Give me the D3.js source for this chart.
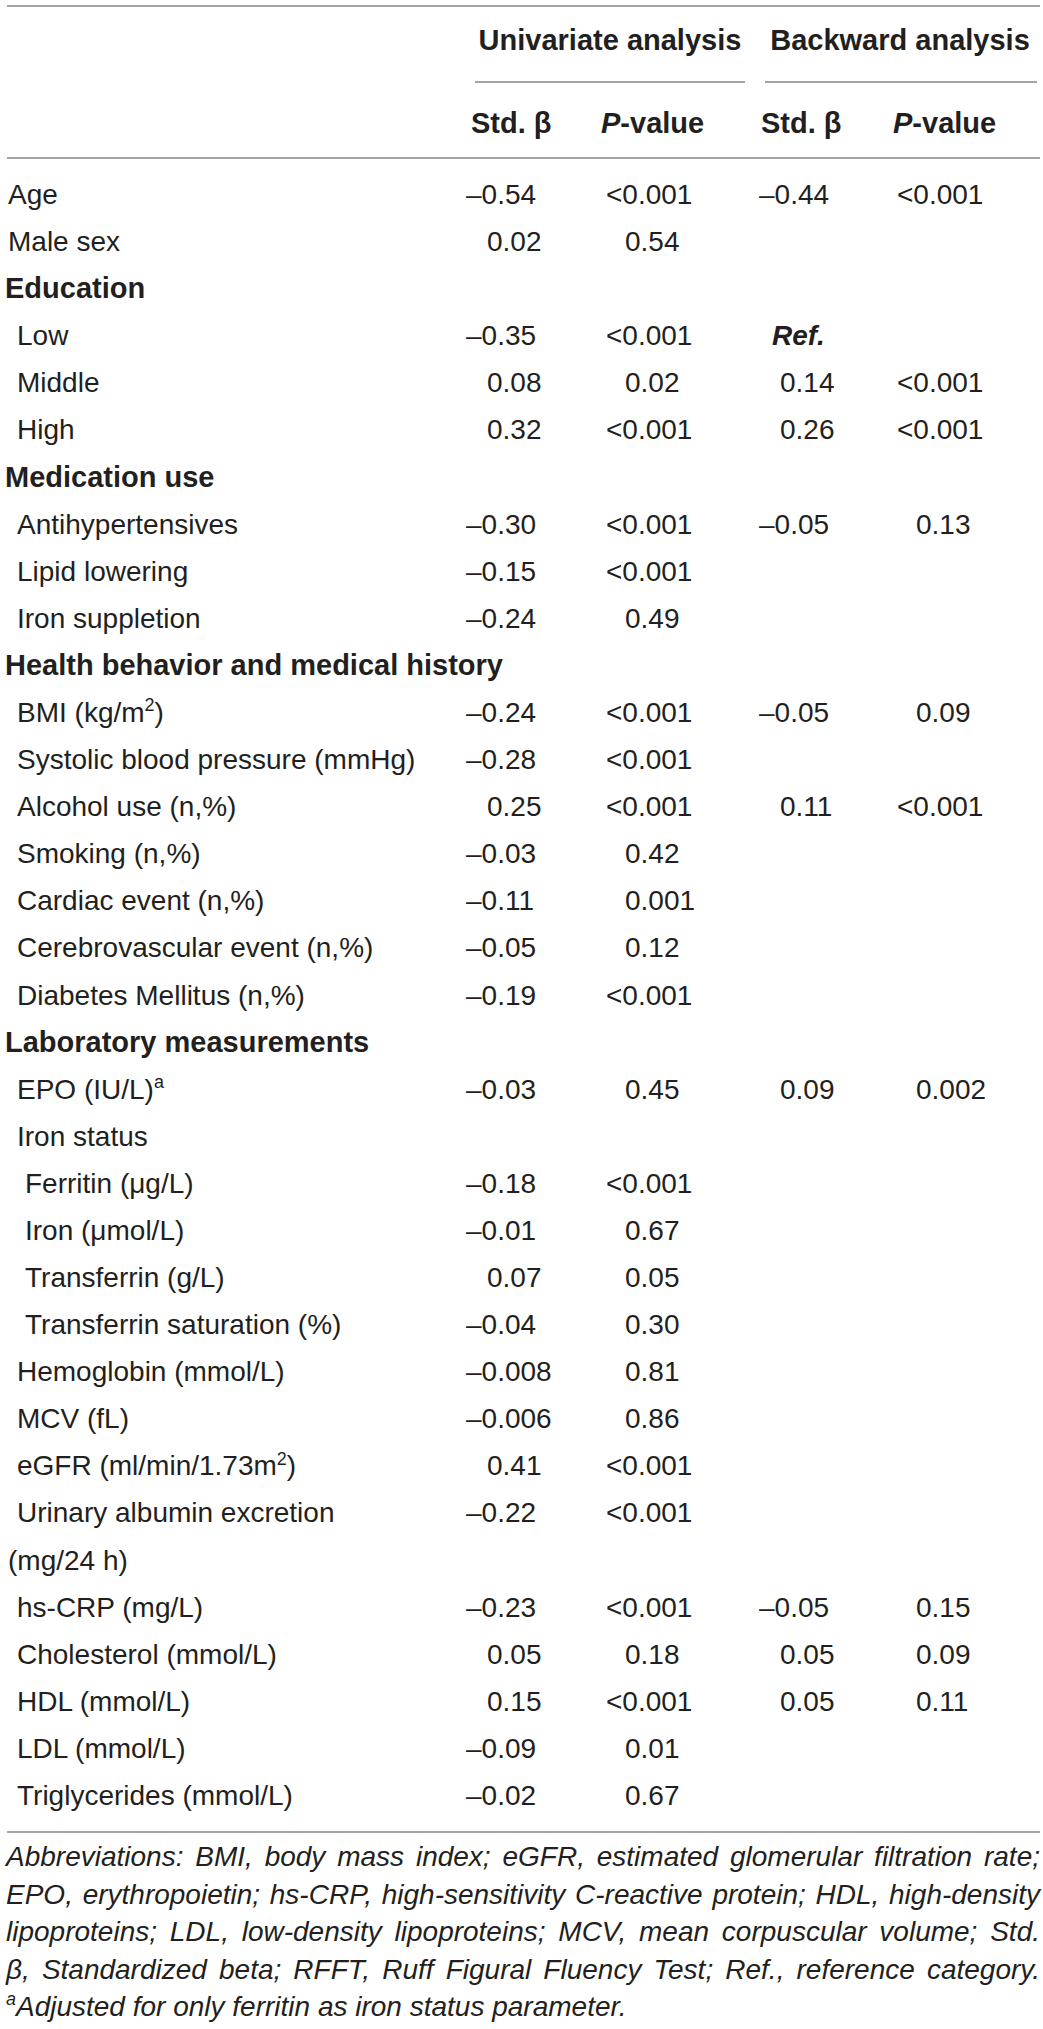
<!DOCTYPE html>
<html>
<head>
<meta charset="utf-8">
<script src="https://cdn.jsdelivr.net/npm/d3@7"></script>
<style>
  body { margin: 0; background: #fff; }
  text { font-family: "Liberation Sans", Arial, Helvetica, sans-serif; fill: #231f20; }
</style>
</head>
<body>
<div id="app-table"></div>
<script>
// row labels, "^x" marks a superscript
let labels = [
  "Age", "Male sex", "Education", "Low", "Middle", "High",
  "Medication use", "Antihypertensives", "Lipid lowering", "Iron suppletion",
  "Health behavior and medical history", "BMI (kg/m^2)", "Systolic blood pressure (mmHg)",
  "Alcohol use (n,%)", "Smoking (n,%)", "Cardiac event (n,%)", "Cerebrovascular event (n,%)",
  "Diabetes Mellitus (n,%)", "Laboratory measurements", "EPO (IU/L)^a", "Iron status",
  "Ferritin (\u03bcg/L)", "Iron (\u03bcmol/L)", "Transferrin (g/L)", "Transferrin saturation (%)",
  "Hemoglobin (mmol/L)", "MCV (fL)", "eGFR (ml/min/1.73m^2)", "Urinary albumin excretion",
  "(mg/24 h)", "hs-CRP (mg/L)", "Cholesterol (mmol/L)", "HDL (mmol/L)", "LDL (mmol/L)",
  "Triglycerides (mmol/L)"
]

// indent level of each label: "h" = section heading, "c" = wrapped line
let levels = [
  0, 0, "h", 1, 1, 1,
  "h", 1, 1, 1,
  "h", 1, 1,
  1, 1, 1, 1,
  1, "h", 1, 1,
  2, 2, 2, 2,
  1, 1, 1, 1,
  "c", 1, 1, 1, 1,
  1
]

let uniBeta = [
  "\u20130.54", "0.02", "", "\u20130.35", "0.08", "0.32",
  "", "\u20130.30", "\u20130.15", "\u20130.24",
  "", "\u20130.24", "\u20130.28",
  "0.25", "\u20130.03", "\u20130.11", "\u20130.05",
  "\u20130.19", "", "\u20130.03", "",
  "\u20130.18", "\u20130.01", "0.07", "\u20130.04",
  "\u20130.008", "\u20130.006", "0.41", "\u20130.22",
  "", "\u20130.23", "0.05", "0.15", "\u20130.09",
  "\u20130.02"
]

let uniP = [
  "<0.001", "0.54", "", "<0.001", "0.02", "<0.001",
  "", "<0.001", "<0.001", "0.49",
  "", "<0.001", "<0.001",
  "<0.001", "0.42", "0.001", "0.12",
  "<0.001", "", "0.45", "",
  "<0.001", "0.67", "0.05", "0.30",
  "0.81", "0.86", "<0.001", "<0.001",
  "", "<0.001", "0.18", "<0.001", "0.01",
  "0.67"
]

let backBeta = [
  "\u20130.44", "", "", "Ref.", "0.14", "0.26",
  "", "\u20130.05", "", "",
  "", "\u20130.05", "",
  "0.11", "", "", "",
  "", "", "0.09", "",
  "", "", "", "",
  "", "", "", "",
  "", "\u20130.05", "0.05", "0.05", "",
  ""
]

let backP = [
  "<0.001", "", "", "", "<0.001", "<0.001",
  "", "0.13", "", "",
  "", "0.09", "",
  "<0.001", "", "", "",
  "", "", "0.002", "",
  "", "", "", "",
  "", "", "", "",
  "", "0.15", "0.09", "0.11", "",
  ""
]

let groupHeads = ["Univariate analysis", "Backward analysis"]
let colHeads = ["Std. \u03b2", "P-value", "Std. \u03b2", "P-value"]

let footnotes = [
  "Abbreviations: BMI, body mass index; eGFR, estimated glomerular filtration rate;",
  "EPO, erythropoietin; hs-CRP, high-sensitivity C-reactive protein; HDL, high-density",
  "lipoproteins; LDL, low-density lipoproteins; MCV, mean corpuscular volume; Std.",
  "\u03b2, Standardized beta; RFFT, Ruff Figural Fluency Test; Ref., reference category.",
  "^aAdjusted for only ferritin as iron status parameter."
]

let svgW = 1043
let svgH = 2029
let lineColor = "#858585"

let svg = d3.select("#app-table")
  .append("svg")
  .attr("width", svgW)
  .attr("height", svgH)

// row baselines
let y = d3.scaleLinear()
  .domain([0, labels.length - 1])
  .range([204, 1805])

// x of the leading "0" in each value column
let cols = ["uniBeta", "uniP", "backBeta", "backP"]
let x = d3.scaleOrdinal()
  .domain(cols)
  .range([487, 625, 780, 916])

let indent = d3.scaleOrdinal()
  .domain(["h", 0, 1, 2, "c"])
  .range([5, 8, 17, 25, 8])

// puts text with optional ^x superscripts into a text node
function fillText(sel, str, size) {
  let parts = str.split(/\^(\w)/)
  parts.forEach((p, i) => {
    if (p === "") return
    if (i % 2 === 1) {
      sel.append("tspan").attr("font-size", size * 0.64).attr("dy", -size * 0.38).text(p)
    } else {
      let t = sel.append("tspan").text(p)
      if (i > 0) t.attr("dy", size * 0.38)
    }
  })
}

// rules
let rules = [
  { x1: 7, x2: 1040, y: 6 },
  { x1: 475, x2: 745, y: 82 },
  { x1: 765, x2: 1037, y: 82 },
  { x1: 7, x2: 1040, y: 158 },
  { x1: 7, x2: 1040, y: 1832 }
]
svg.selectAll("line.rule")
  .data(rules)
  .enter()
  .append("line")
  .attr("class", "rule")
  .attr("x1", d => d.x1)
  .attr("x2", d => d.x2)
  .attr("y1", d => d.y)
  .attr("y2", d => d.y)
  .attr("stroke", lineColor)
  .attr("stroke-width", 1.6)

// header
svg.selectAll("text.group")
  .data(groupHeads)
  .enter()
  .append("text")
  .attr("class", "group")
  .attr("x", (d, i) => [610, 900][i])
  .attr("y", 50)
  .attr("text-anchor", "middle")
  .attr("font-size", 29)
  .attr("font-weight", "bold")
  .text(d => d)

let heads = svg.selectAll("text.colhead")
  .data(colHeads)
  .enter()
  .append("text")
  .attr("class", "colhead")
  .attr("x", (d, i) => [471, 601, 761, 893][i])
  .attr("y", 133)
  .attr("font-size", 29)
  .attr("font-weight", "bold")
heads.each(function (d) {
  let t = d3.select(this)
  if (d.startsWith("P")) {
    t.append("tspan").attr("font-style", "italic").text("P")
    t.append("tspan").text(d.slice(1))
  } else {
    t.text(d)
  }
})

// row labels
svg.selectAll("text.label")
  .data(labels)
  .enter()
  .append("text")
  .attr("class", "label")
  .attr("x", (d, i) => indent(levels[i]))
  .attr("y", (d, i) => y(i))
  .attr("font-size", (d, i) => levels[i] === "h" ? 29 : 28)
  .attr("font-weight", (d, i) => levels[i] === "h" ? "bold" : "normal")
  .each(function (d, i) { fillText(d3.select(this), d, 28) })

// value cells
let series = { uniBeta, uniP, backBeta, backP }
let cells = []
cols.forEach(c => series[c].forEach((v, i) => { if (v) cells.push({ col: c, row: i, v }) }))

function cellX(d) {
  if (d.v === "Ref.") return 772
  let x0 = x(d.col)
  if (d.v.startsWith("\u2013")) return x0 - 21
  if (d.v.startsWith("<")) return x0 - 19
  return x0
}

svg.selectAll("text.cell")
  .data(cells)
  .enter()
  .append("text")
  .attr("class", "cell")
  .attr("x", cellX)
  .attr("y", d => y(d.row))
  .attr("font-size", 28)
  .attr("font-weight", d => d.v === "Ref." ? "bold" : "normal")
  .attr("font-style", d => d.v === "Ref." ? "italic" : "normal")
  .text(d => d.v)

// footnote, justified except for the last line
let fy = d3.scaleLinear()
  .domain([0, footnotes.length - 1])
  .range([1866, 2016])

let notes = svg.selectAll("text.note")
  .data(footnotes)
  .enter()
  .append("text")
  .attr("class", "note")
  .attr("x", 6)
  .attr("y", (d, i) => fy(i))
  .attr("font-size", 28)
  .attr("font-style", "italic")
  .each(function (d) { fillText(d3.select(this), d, 28) })

notes.each(function (d, i) {
  if (i === footnotes.length - 1) return
  let len = this.getComputedTextLength()
  let gaps = d.split(" ").length - 1
  d3.select(this).attr("word-spacing", (1034 - len) / gaps)
})
</script>
</body>
</html>
